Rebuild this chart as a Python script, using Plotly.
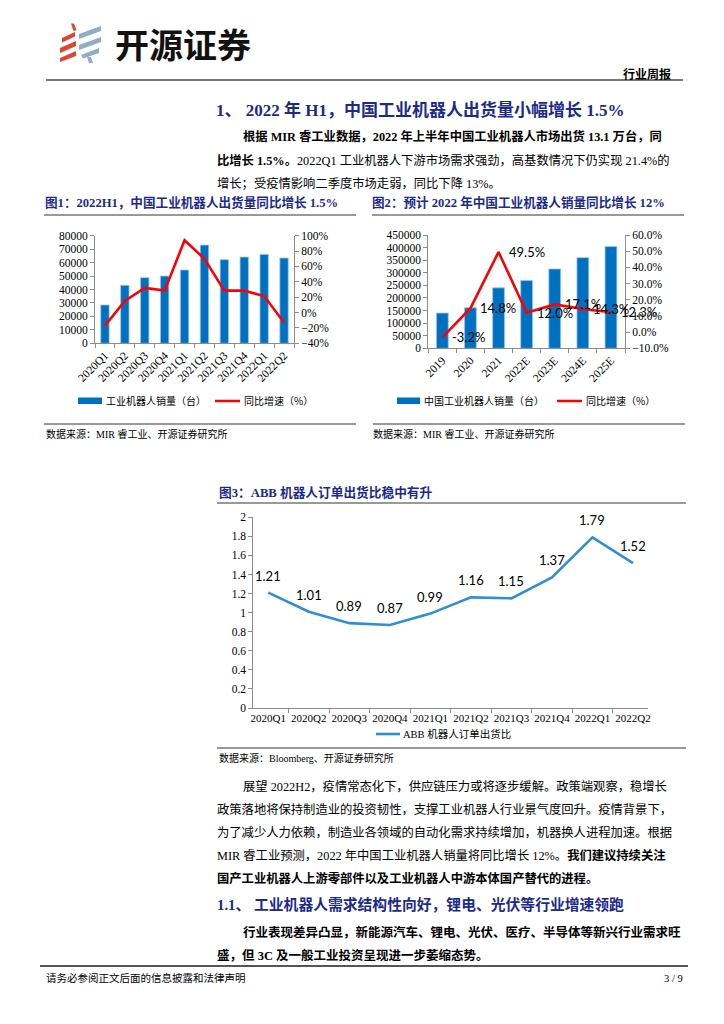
import plotly.graph_objects as go

# The page body has an 8px margin, so the figure is 16px smaller than the window
# and page pixel coordinates are converted to paper coordinates with that offset.
OFF = 8
FW, FH = 724 - 2 * OFF, 1024 - 2 * OFF


def X(px):
    return (px - OFF) / FW


def Y(py):
    return 1 - (py - OFF) / FH


# ---------------- data ----------------
quarters = ["2020Q1", "2020Q2", "2020Q3", "2020Q4", "2021Q1",
            "2021Q2", "2021Q3", "2021Q4", "2022Q1", "2022Q2"]
robot_sales_q = [28500, 43100, 48800, 50000, 54500, 73000, 62200, 64100, 66100, 63400]
robot_yoy_q = [-0.17, 0.15, 0.32, 0.285, 0.94, 0.70, 0.285, 0.285, 0.215, -0.13]

years = ["2019", "2020", "2021", "2022E", "2023E", "2024E", "2025E"]
robot_sales_y = [140000, 161000, 240000, 269000, 315000, 360000, 404000]
robot_yoy_y = [-0.032, 0.148, 0.495, 0.120, 0.171, 0.143, 0.123]

abb_quarters = quarters
abb_book_to_bill = [1.21, 1.01, 0.89, 0.87, 0.99, 1.16, 1.15, 1.37, 1.79, 1.52]

# ---------------- styles ----------------
SERIF = "Liberation Serif, Noto Sans CJK SC, serif"
CJK = "Noto Sans CJK SC, sans-serif"
SANS = "Lato, Liberation Sans, sans-serif"
NAVY = "#1C2A8C"
BLUE = "#0070C0"
RED = "#FF0000"
LINEBLUE = "#2E8FD6"
AXC = "#8C8C8C"
BODY = 12.3

fig = go.Figure()

# Chart 1
fig.add_trace(go.Bar(x=quarters, y=robot_sales_q, xaxis="x", yaxis="y",
                     marker=dict(color=BLUE, line=dict(color="#9CC3E8", width=0.8)),
                     showlegend=False, name="工业机器人销量（台）"))
fig.add_trace(go.Scatter(x=quarters, y=robot_yoy_q, xaxis="x", yaxis="y2", mode="lines",
                         line=dict(color=RED, width=2.6), showlegend=False, name="同比增速（%）"))
# Chart 2
fig.add_trace(go.Bar(x=years, y=robot_sales_y, xaxis="x2", yaxis="y3",
                     marker=dict(color=BLUE, line=dict(color="#9CC3E8", width=0.8)),
                     showlegend=False, name="中国工业机器人销量（台）"))
fig.add_trace(go.Scatter(x=years, y=robot_yoy_y, xaxis="x2", yaxis="y4", mode="lines",
                         line=dict(color=RED, width=2.6), showlegend=False, name="同比增速（%）"))
# Chart 3
fig.add_trace(go.Scatter(x=abb_quarters, y=abb_book_to_bill, xaxis="x3", yaxis="y5", mode="lines",
                         line=dict(color=LINEBLUE, width=2.6), showlegend=False,
                         name="ABB 机器人订单出货比"))

tickfont = dict(family=SERIF, size=11.5, color="#000")
axis_common = dict(showline=True, linecolor=AXC, linewidth=1, ticks="outside", ticklen=4,
                   tickcolor=AXC, showgrid=False, zeroline=False, tickfont=tickfont,
                   fixedrange=True, automargin=False)

layout = dict(
    template="none",
    width=FW, height=FH, autosize=False,
    margin=dict(l=0, r=0, t=0, b=0, pad=0, autoexpand=False),
    paper_bgcolor="white", plot_bgcolor="rgba(0,0,0,0)",
    bargap=0.58, showlegend=False,
    xaxis=dict(domain=[X(95), X(294)], anchor="y", type="category", tickangle=-45,
               tickson="boundaries", **axis_common),
    yaxis=dict(domain=[Y(343.3), Y(235.7)], anchor="x", range=[0, 80000], dtick=10000,
               tickformat="d", **axis_common),
    yaxis2=dict(overlaying="y", side="right", anchor="x", range=[-0.4, 1.0], dtick=0.2,
                tickformat=".0%", **axis_common),
    xaxis2=dict(domain=[X(428.3), X(625)], anchor="y3", type="category", tickangle=-45,
                tickson="boundaries", range=[-0.5, len(years) - 0.5], **axis_common),
    yaxis3=dict(domain=[Y(348.3), Y(235)], anchor="x2", range=[0, 450000], dtick=50000,
                tickformat="d", **axis_common),
    yaxis4=dict(overlaying="y3", side="right", anchor="x2", range=[-0.1, 0.6], dtick=0.1,
                tickformat=".1%", **axis_common),
    xaxis3=dict(domain=[X(253.3), X(648)], anchor="y5", type="category", tickangle=0,
                tickson="boundaries", **axis_common),
    yaxis5=dict(domain=[Y(708), Y(517.3)], anchor="x3", range=[0, 2], dtick=0.2,
                **axis_common),
)
fig.update_layout(**layout)
fig.update_xaxes(tickfont=dict(family=SERIF, size=11, color="#000"), selector=dict(anchor="y5"))

ann = []
shapes = []


def text(px, py, s, size=BODY, color="#000", family=SERIF, xanchor="left", yanchor="middle"):
    ann.append(dict(x=X(px), y=Y(py), xref="paper", yref="paper", text=s, showarrow=False,
                    xanchor=xanchor, yanchor=yanchor, align="left", borderpad=0,
                    font=dict(family=family, size=size, color=color)))


def hline(x0, x1, py, color="#666", width=1.5):
    shapes.append(dict(type="line", xref="paper", yref="paper", x0=X(x0), x1=X(x1),
                       y0=Y(py), y1=Y(py), line=dict(color=color, width=width)))


def poly(points, color):
    path = "M " + " L ".join(f"{X(a):.5f},{Y(b):.5f}" for a, b in points) + " Z"
    shapes.append(dict(type="path", xref="paper", yref="paper", path=path,
                       fillcolor=color, line=dict(width=0)))


# ---------------- header / logo ----------------
RED_L = "#E0432F"
GRAY_L = "#8FAEC1"
poly([(62, 38), (75, 32), (75, 36.5), (62, 42.5)], RED_L)
poly([(60, 48), (76, 41), (76, 46), (60, 53)], RED_L)
poly([(60, 58), (76, 51), (76, 56), (60, 62)], RED_L)
poly([(71, 23.5), (74, 23.5), (76.5, 30), (73.5, 31)], RED_L)
poly([(79, 34), (101, 26), (101, 31), (79, 39)], GRAY_L)
poly([(79, 45), (101, 37), (101, 42), (79, 50)], GRAY_L)
poly([(81, 55), (99, 48), (99, 53), (83, 58.5)], GRAY_L)
poly([(87, 57), (91, 57), (93, 63), (89, 63)], GRAY_L)
text(114, 44, "<b>开源证券</b>", size=34, family=CJK, color="#111")
text(672, 73, "<b>行业周报</b>", size=12, family=CJK, xanchor="right")
hline(46, 683, 80, color="#777", width=2)

# ---------------- section 1 ----------------
text(215, 110, "<b>1、 2022 年 H1，中国工业机器人出货量小幅增长 1.5%</b>", size=17, color=NAVY)
text(242, 136, "<b>根据 MIR 睿工业数据，2022 年上半年中国工业机器人市场出货 13.1 万台，同</b>")
text(216, 160, "<b>比增长 1.5%。</b>2022Q1 工业机器人下游市场需求强劲，高基数情况下仍实现 21.4%的")
text(216, 183, "增长；受疫情影响二季度市场走弱，同比下降 13%。")

# figure titles
text(44, 203, "<b>图1：2022H1，中国工业机器人出货量同比增长 1.5%</b>", size=12.6, color=NAVY)
hline(44, 356, 215, color="#777", width=1.5)
text(371, 203, "<b>图2：预计 2022 年中国工业机器人销量同比增长 12%</b>", size=12.6, color=NAVY)
hline(372, 684, 215, color="#777", width=1.5)

# legends chart 1
shapes.append(dict(type="rect", xref="paper", yref="paper", x0=X(78), x1=X(102),
                   y0=Y(404), y1=Y(397.5), fillcolor=BLUE, line=dict(width=0)))
text(105, 401, "工业机器人销量（台）", size=10, family=CJK)
hline(215, 240, 401, color=RED, width=2.5)
text(243, 401, "同比增速（%）", size=10, family=CJK)
# legends chart 2
shapes.append(dict(type="rect", xref="paper", yref="paper", x0=X(397), x1=X(420),
                   y0=Y(404), y1=Y(397.5), fillcolor=BLUE, line=dict(width=0)))
text(423, 401, "中国工业机器人销量（台）", size=10, family=CJK)
hline(557, 582, 401, color=RED, width=2.5)
text(585, 401, "同比增速（%）", size=10, family=CJK)

hline(44, 356, 424, color="#777", width=1.5)
hline(373, 685, 424, color="#777", width=1.5)
text(45, 434, "数据来源：MIR 睿工业、开源证券研究所", size=10)
text(372, 434, "数据来源：MIR 睿工业、开源证券研究所", size=10)

# chart 2 data labels (category index on the category axis)
for i, v in enumerate(robot_yoy_y):
    ann.append(dict(x=i, y=v, xref="x2", yref="y4", text=f"{v * 100:.1f}%", showarrow=False,
                    xanchor="left", yanchor="middle", xshift=8,
                    font=dict(family=SANS, size=13, color="#000")))

# ---------------- chart 3 ----------------
text(218, 492, "<b>图3：ABB 机器人订单出货比稳中有升</b>", size=12.7, color=NAVY)
hline(217, 686, 503, color="#777", width=1.5)
for i, v in enumerate(abb_book_to_bill):
    ann.append(dict(x=i, y=v, xref="x3", yref="y5", text=f"{v:.2f}", showarrow=False,
                    xanchor="center", yanchor="middle", yshift=17,
                    font=dict(family=SANS, size=13, color="#000")))
hline(376, 400, 734, color=LINEBLUE, width=2.6)
text(402, 734, "ABB 机器人订单出货比", size=10.5)
hline(217, 686, 748, color="#777", width=1.5)
text(218, 758, "数据来源：Bloomberg、开源证券研究所", size=10)

# ---------------- paragraph 2 ----------------
text(242, 786, "展望 2022H2，疫情常态化下，供应链压力或将逐步缓解。政策端观察，稳增长")
text(216, 809, "政策落地将保持制造业的投资韧性，支撑工业机器人行业景气度回升。疫情背景下，")
text(216, 832, "为了减少人力依赖，制造业各领域的自动化需求持续增加，机器换人进程加速。根据")
text(216, 855, "MIR 睿工业预测，2022 年中国工业机器人销量将同比增长 12%。<b>我们建议持续关注</b>")
text(216, 878, "<b>国产工业机器人上游零部件以及工业机器人中游本体国产替代的进程。</b>")

text(216, 904, "<b>1.1、 工业机器人需求结构性向好，锂电、光伏等行业增速领跑</b>", size=14.8, color=NAVY)
text(242, 932, "<b>行业表现差异凸显，新能源汽车、锂电、光伏、医疗、半导体等新兴行业需求旺</b>",
     size=12.5)
text(216, 955, "<b>盛，但 3C 及一般工业投资呈现进一步萎缩态势。</b>", size=12.5)

# footer
hline(40, 688, 966, color="#555", width=2)
text(45, 978, "请务必参阅正文后面的信息披露和法律声明", size=10.5)
text(684, 978, "3 / 9", size=10.5, xanchor="right")

fig.update_layout(annotations=ann, shapes=shapes)
fig.write_html("out.html")
